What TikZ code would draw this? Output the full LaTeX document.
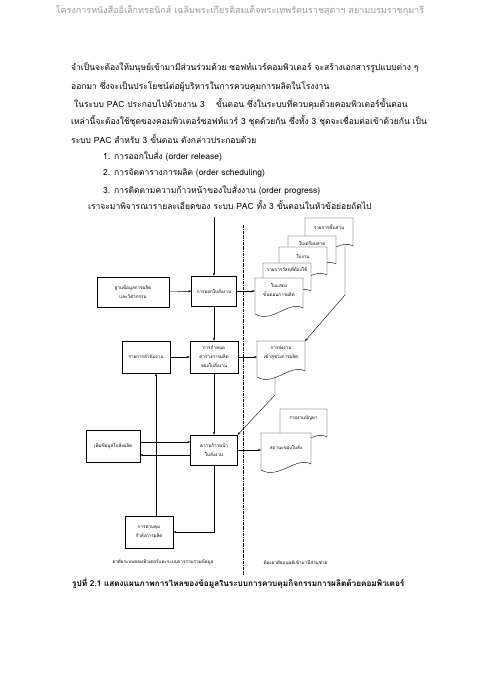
\documentclass[tikz,border=0pt]{standalone}
\usepackage{fontspec}
\setmainfont[Script=Thai]{Loma}
\usetikzlibrary{arrows.meta, calc}

\newcommand\diagfont{\fontsize{4.6}{9}\selectfont}
\newcommand\bodyfont{\fontsize{8.5}{11}\selectfont}
\newcommand\headfont{\fontsize{9}{11}\selectfont}

\begin{document}
\begin{tikzpicture}[x=1pt, y=-1pt,
  box/.style={draw, line width=0.4pt, align=center, inner sep=1pt, font=\diagfont},
  doctext/.style={align=center, inner sep=0pt, font=\diagfont},
  docline/.style={draw, line width=0.4pt, fill=white},
  flow/.style={line width=0.4pt, -{Stealth[length=3pt, width=2.2pt]}},
  body/.style={anchor=west, inner sep=0pt, font=\bodyfont},
  sep/.style={line width=0.4pt, dash pattern=on 3pt off 1pt on 0.6pt off 1pt},
]
\useasboundingbox (0,0) rectangle (480,679);

% Header and text above the picture
\path (240,11) node[font=\headfont, text=black!40] (head)
{โครงการหนังสืออิเล็กทรอนิกส์ เฉลิมพระเกียรติสมเด็จพระเทพรัตนราชสุดาฯ สยามบรมราชกุมารี};
\path
(71,68) node[body] (line1) {จำเป็นจะต้องให้มนุษย์เข้ามามีส่วนร่วมด้วย ซอฟท์แวร์คอมพิวเตอร์ จะสร้างเอกสารรูปแบบต่าง ๆ}
(71,86) node[body] (line2) {ออกมา ซึ่งจะเป็นประโยชน์ต่อผู้บริหารในการควบคุมการผลิตในโรงงาน}
(74,104) node[body] (line3) {ในระบบ PAC ประกอบไปด้วยงาน 3 \quad ขั้นตอน ซึ่งในระบบที่ควบคุมด้วยคอมพิวเตอร์ขั้นตอน}
(71,121) node[body] (line4) {เหล่านี้จะต้องใช้ชุดของคอมพิวเตอร์ซอฟท์แวร์ 3 ชุดด้วยกัน ซึ่งทั้ง 3 ชุดจะเชื่อมต่อเข้าด้วยกัน เป็น}
(71,139) node[body] (line5) {ระบบ PAC สำหรับ 3 ขั้นตอน ดังกล่าวประกอบด้วย}
(103,156) node[body] (item1) {1. การออกใบสั่ง (order release)}
(103,173) node[body] (item2) {2. การจัดตารางการผลิต (order scheduling)}
(103,190) node[body] (item3) {3. การติดตามความก้าวหน้าของใบสั่งงาน (order progress)}
(88,205) node[body] (line9) {เราจะมาพิจารณารายละเอียดของ ระบบ PAC ทั้ง 3 ขั้นตอนในหัวข้อย่อยถัดไป}
;

% Boxes
\path
(133,292) node[box, minimum width=72, minimum height=30] (base) {ฐานข้อมูลการผลิต\\และวิศวกรรม}
(214,291) node[box, minimum width=45, minimum height=30] (release) {การออกใบสั่งงาน}
(146,357) node[box, minimum width=48, minimum height=32] (list) {รายการลำดับงาน}
(214,357) node[box, minimum width=48, minimum height=32] (sched) {การกำหนด\\ตารางการผลิต\\ของใบสั่งงาน}
(113,446) node[box, minimum width=54, minimum height=32] (add) {เพิ่มข้อมูลใบสั่งผลิต}
(214,450) node[box, minimum width=47, minimum height=30] (prog) {ความก้าวหน้า\\ใบสั่งงาน}
(149,532) node[box, minimum width=48, minimum height=32] (cap) {การควบคุม\\กำลังการผลิต}
;
\coordinate (top) at (214,217);
\coordinate (capline) at (156,0);

% Documents, back to front
\foreach \nm/\x/\y/\w/\h/\ty/\txt in {
  parts/305/218/48/34/9/รายการชิ้นส่วน,
  prep/288/236/48/34/7/ใบเตรียมสาย,
  job/279/247/48/34/9/ใบงาน,
  mat/263/263/48/34/7/รายการวัสดุที่ต้องใช้,
  route/255/278/48/36/12/ใบแสดง\\ขั้นตอนการผลิต,
  send/257/341/48/36/12/การส่งงาน\\เข้าสู่ช่วงการผลิต,
  issue/280/409/47/34/9/รายงานปัญหา,
  status/261/433/50/37/14/สถานะของใบสั่ง}
{
  \draw[docline] (\x,\y) coordinate (\nm-nw) -- ++(\w,0) coordinate (\nm-ne) -- ++(0,\h-6)
    .. controls +(-0.3*\w,-8) and +(0.35*\w,10) .. ++(-\w,6) -- cycle;
  \node[doctext, text width=\w pt] (\nm) at (\x+\w/2,\y+\ty) {\txt};
}

% Separator between computer side and human side
\draw[sep] (243,225) coordinate (septop) -- (243,575) coordinate (sepbot);
\path
(163,562) node[font=\diagfont] (leftnote) {อาศัยระบบคอมพิวเตอร์และระบบการรวบรวมข้อมูล}
(260,563) node[font=\diagfont, anchor=west] (rightnote) {ต้องอาศัยมนุษย์เข้ามามีส่วนช่วย}
;

% Flows
\draw[flow] (top) -- (release);
\draw[flow] (base) -- (release);
\draw[flow] (release.east) -- (release.east -| route-nw);
\draw[flow] (release) -- (sched);
\draw[flow] (list) -- (sched);
\draw[flow] (sched.east) -- (sched.east -| send-nw);
\draw[flow] ($(parts-nw)+(40,28)$) -- ++(0,49) -- (send-ne);
\draw[flow] (sched) -- (prog);
\draw[flow] ($(send-nw)+(18,35)$) -- ++(0,19) -- (prog.north east);
\draw[flow] ([yshift=4pt]add.east) -- ([yshift=4pt]add.east -| prog.west);
\draw[flow] ([yshift=-5pt]prog.west) -- ([yshift=-5pt]prog.west -| add.east);
\draw[flow] (prog.east) -- (prog.east -| status-nw);
\draw[flow] (prog.south) |- (cap.east);
\draw[flow] (cap.north -| capline) -- (list.south -| capline);

% Caption
\path (72,583) node[anchor=west, inner sep=0pt, font=\bfseries\fontsize{8.2}{10}\selectfont] (caption)
{รูปที่ 2.1 แสดงแผนภาพการไหลของข้อมูลในระบบการควบคุมกิจกรรมการผลิตด้วยคอมพิวเตอร์};

\end{tikzpicture}
\end{document}
